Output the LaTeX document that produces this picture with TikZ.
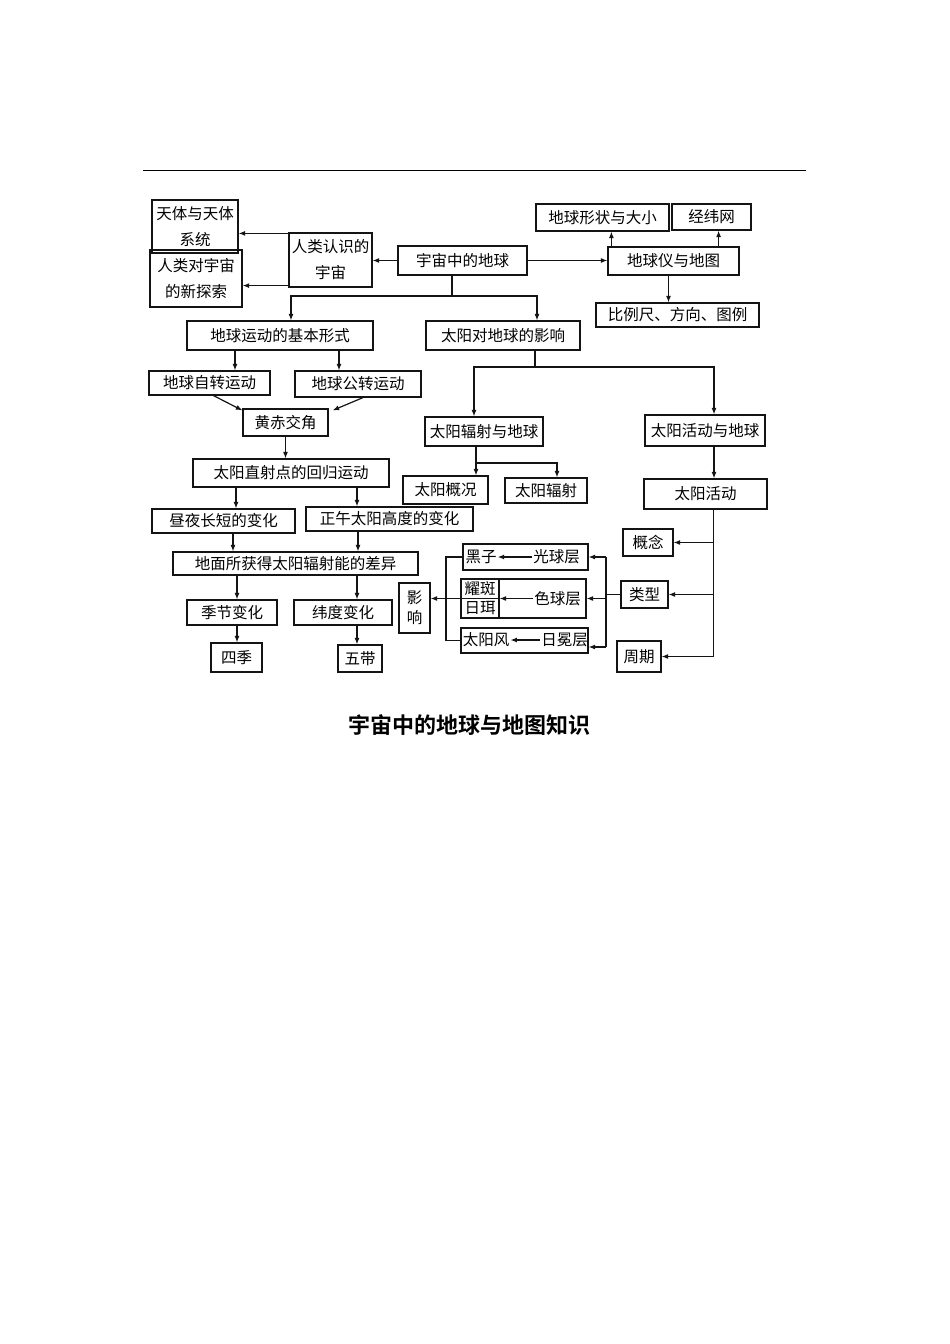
\documentclass[tikz,border=0pt]{standalone}
\usepackage{fontspec}
\usepackage{tikz}
\usetikzlibrary{arrows.meta, positioning, calc}
\newfontfamily\cjk{Noto Sans CJK SC}
\newfontfamily\cjkbold{Noto Sans CJK SC Bold}
\definecolor{inkline}{RGB}{20,20,20}

\begin{document}
\begin{tikzpicture}[x=1pt, y=-1pt,
  box/.style={draw=inkline, line width=1.2pt, inner sep=0pt, align=center,
              font=\cjk\fontsize{15.5}{26}\selectfont},
  cell/.style={inner sep=1pt, font=\cjk\fontsize{15.5}{20}\selectfont},
  arrow/.style={-{Latex[length=6.5pt,width=5pt]}, line width=1.2pt, inkline},
  wire/.style={line width=1.2pt, inkline},
]
\fill[white] (0,0) rectangle (950,1344);
\draw[line width=0.9pt] (143,170) -- (806,170);

\node[box, minimum width=129, minimum height=29] (yuzhou) at (462.5,260.5) {宇宙中的地球};
\node[box, minimum width=83, minimum height=54] (renlei) at (330.5,260) {人类认识的\\宇宙};
\node[box, minimum width=86, minimum height=53] (tianti) at (195,226.5) {天体与天体\\系统};
\node[box, minimum width=92, minimum height=57] (tansuo) at (196,278.5) {人类对宇宙\\的新探索};
\node[box, minimum width=131, minimum height=28] (diqiuyi) at (673.5,261) {地球仪与地图};
\node[box, minimum width=133, minimum height=27] (xingzhuang) at (602.5,217.5) {地球形状与大小};
\node[box, minimum width=79, minimum height=26] (jingwei) at (711.5,217) {经纬网};
\node[box, minimum width=163, minimum height=24] (bili) at (677.5,315) {比例尺、方向、图例};

\node[box, minimum width=186, minimum height=29] (yundong) at (280,335.5) {地球运动的基本形式};
\node[box, minimum width=154, minimum height=29] (yingxiang) at (503,335.5) {太阳对地球的影响};
\node[box, minimum width=121, minimum height=24] (zizhuan) at (209.5,383) {地球自转运动};
\node[box, minimum width=126, minimum height=26] (gongzhuan) at (358,384) {地球公转运动};
\node[box, minimum width=85, minimum height=27] (huangchi) at (285.5,422.5) {黄赤交角};
\node[box, minimum width=196, minimum height=28] (zhishe) at (291,473) {太阳直射点的回归运动};
\node[box, minimum width=143, minimum height=24] (zhouye) at (223.5,521) {昼夜长短的变化};
\node[box, minimum width=167, minimum height=24] (zhengwu) at (389.5,519) {正午太阳高度的变化};
\node[box, minimum width=245, minimum height=23] (chayi) at (295.5,563.5) {地面所获得太阳辐射能的差异};
\node[box, minimum width=90, minimum height=25] (jijie) at (232,612.5) {季节变化};
\node[box, minimum width=98, minimum height=25] (weidu) at (343,612.5) {纬度变化};
\node[box, minimum width=51, minimum height=29] (siji) at (236.5,657.5) {四季};
\node[box, minimum width=44, minimum height=27] (wudai) at (360,658.5) {五带};

\node[box, minimum width=118, minimum height=29] (fushediqiu) at (484,431.5) {太阳辐射与地球};
\node[box, minimum width=120, minimum height=31] (huodongdiqiu) at (705,430.5) {太阳活动与地球};
\node[box, minimum width=85, minimum height=28] (gaikuang) at (445.5,490) {太阳概况};
\node[box, minimum width=82, minimum height=25] (fushe) at (546,490.5) {太阳辐射};
\node[box, minimum width=123, minimum height=30] (huodong) at (705.5,494) {太阳活动};
\node[box, minimum width=50, minimum height=27] (gainian) at (648,542.5) {概念};
\node[box, minimum width=47, minimum height=27] (leixing) at (644.5,594.5) {类型};
\node[box, minimum width=44, minimum height=31] (zhouqi) at (639,656.5) {周期};

\node[box, minimum width=125, minimum height=26] (gqframe) at (525.5,557) {};
\node[box, minimum width=125, minimum height=39] (sqframe) at (523.5,598.5) {};
\node[box, minimum width=127, minimum height=25] (rmframe) at (524.5,640.5) {};
\node[box, minimum width=38, minimum height=19.5] (yaoban) at (480,588.75) {耀斑};
\node[box, minimum width=38, minimum height=19.5] (rier) at (480,608.25) {日珥};
\node[cell] (heizi) at (481,557) {黑子};
\node[cell] (guangqiu) at (556.5,557) {光球层};
\node[cell] (seqiu) at (557.5,598.5) {色球层};
\node[cell] (fengnode) at (486,640) {太阳风};
\node[cell] (rimian) at (564.5,640) {日冕层};
\node[box, minimum width=31, minimum height=50, font=\cjk\fontsize{15.5}{20}\selectfont] (ying) at (414.5,608) {影\\响};

\node[font=\cjkbold\fontsize{22}{26}\selectfont] (title) at (469,725) {宇宙中的地球与地图知识};

\coordinate (fk1) at (452,296);
\coordinate (fk2) at (535,367);
\coordinate (fk3) at (476,463);
\coordinate (fk4) at (606,595);
\coordinate (fk5) at (446,598);
\path ([yshift=-1pt]renlei.north west) coordinate (r1)
      ([yshift=2pt]renlei.south west) coordinate (r2)
      ([xshift=4pt]diqiuyi.north west) coordinate (dq1)
      ([xshift=-21pt]diqiuyi.north east) coordinate (dq2)
      ([xshift=-5pt]diqiuyi.south) coordinate (dq3)
      ([xshift=-10.5pt]yuzhou.south) coordinate (yz1)
      ([xshift=11pt]yundong.north) coordinate (yd0)
      ([xshift=34pt]yingxiang.north) coordinate (yx0)
      ([xshift=-45pt]yundong.south) coordinate (yd1)
      ([xshift=59pt]yundong.south) coordinate (yd2)
      ([xshift=4pt]zizhuan.south) coordinate (zz1)
      ([xshift=5pt]gongzhuan.south) coordinate (gz1)
      ([yshift=-2pt]huangchi.north west) coordinate (hc1)
      ([xshift=4pt,yshift=-2pt]huangchi.north east) coordinate (hc2)
      ([xshift=-55pt]zhishe.south) coordinate (zs1)
      ([xshift=66pt]zhishe.south) coordinate (zs2)
      ([xshift=9.5pt]zhouye.south) coordinate (zy1)
      ([xshift=-31.5pt]zhengwu.south) coordinate (zw1)
      ([xshift=-58.5pt]chayi.south) coordinate (cy1)
      ([xshift=61.5pt]chayi.south) coordinate (cy2)
      ([xshift=5pt]jijie.south) coordinate (jj1)
      ([xshift=14pt]weidu.south) coordinate (wd1)
      ([xshift=32pt]yingxiang.south) coordinate (yx1)
      ([xshift=-10pt]fushediqiu.north) coordinate (fd0)
      ([xshift=9pt]huodongdiqiu.north) coordinate (hd0)
      ([xshift=-8pt]fushediqiu.south) coordinate (fd1)
      ([xshift=30.5pt]gaikuang.north) coordinate (gk0)
      ([xshift=11pt]fushe.north) coordinate (fs0)
      ([xshift=9pt]huodongdiqiu.south) coordinate (hd1)
      ([xshift=8pt]huodong.south) coordinate (ho1)
      ([yshift=-6.5pt]rmframe.east) coordinate (rm1);

\draw[arrow] (yuzhou.west) -- (yuzhou.west -| renlei.east);
\draw[arrow] (r1) -- (r1 -| tianti.east);
\draw[arrow] (r2) -- (r2 -| tansuo.east);
\draw[arrow] (yuzhou.east) -- (yuzhou.east -| diqiuyi.west);
\draw[arrow] (dq1) -- (dq1 |- xingzhuang.south);
\draw[arrow] (dq2) -- (dq2 |- jingwei.south);
\draw[arrow] (dq3) -- (dq3 |- bili.north);

\draw[wire] (yz1) -- (yz1 |- fk1);
\draw[arrow] (fk1) -| (yd0);
\draw[arrow] (fk1) -| (yx0);
\draw[arrow] (yd1) -- (yd1 |- zizhuan.north);
\draw[arrow] (yd2) -- (yd2 |- gongzhuan.north);
\draw[arrow] (zz1) -- (hc1);
\draw[arrow] (gz1) -- (hc2);
\draw[arrow] (huangchi.south) -- (huangchi.south |- zhishe.north);
\draw[arrow] (zs1) -- (zs1 |- zhouye.north);
\draw[arrow] (zs2) -- (zs2 |- zhengwu.north);
\draw[arrow] (zy1) -- (zy1 |- chayi.north);
\draw[arrow] (zw1) -- (zw1 |- chayi.north);
\draw[arrow] (cy1) -- (cy1 |- jijie.north);
\draw[arrow] (cy2) -- (cy2 |- weidu.north);
\draw[arrow] (jj1) -- (jj1 |- siji.north);
\draw[arrow] (wd1) -- (wd1 |- wudai.north);

\draw[wire] (yx1) -- (yx1 |- fk2);
\draw[arrow] (fk2) -| (fd0);
\draw[arrow] (fk2) -| (hd0);
\draw[wire] (fd1) -- (fd1 |- fk3);
\draw[arrow] (fk3) -| (gk0);
\draw[arrow] (fk3) -| (fs0);
\draw[arrow] (hd1) -- (hd1 |- huodong.north);
\draw[arrow] (ho1) |- (zhouqi.east);
\draw[arrow] (ho1 |- gainian.east) -- (gainian.east);
\draw[arrow] (ho1 |- leixing.east) -- (leixing.east);

\draw[wire] (leixing.west) -- (leixing.west -| fk4);
\draw[wire] (fk4 |- gqframe.east) -- (fk4 |- rm1);
\draw[arrow] (fk4 |- gqframe.east) -- (gqframe.east);
\draw[arrow] (fk4 |- sqframe.east) -- (sqframe.east);
\draw[arrow] (fk4 |- rm1) -- (rm1);
\draw[arrow] (guangqiu.west) -- (heizi.east);
\draw[arrow] (seqiu.west) -- (seqiu.west -| yaoban.east);
\draw[arrow] (rimian.west) -- (fengnode.east);
\draw[wire] (gqframe.west) -- (gqframe.west -| fk5) -- (rmframe.west -| fk5) -- (rmframe.west);
\draw[arrow] (sqframe.west) -- (sqframe.west -| ying.east);
\end{tikzpicture}
\end{document}
